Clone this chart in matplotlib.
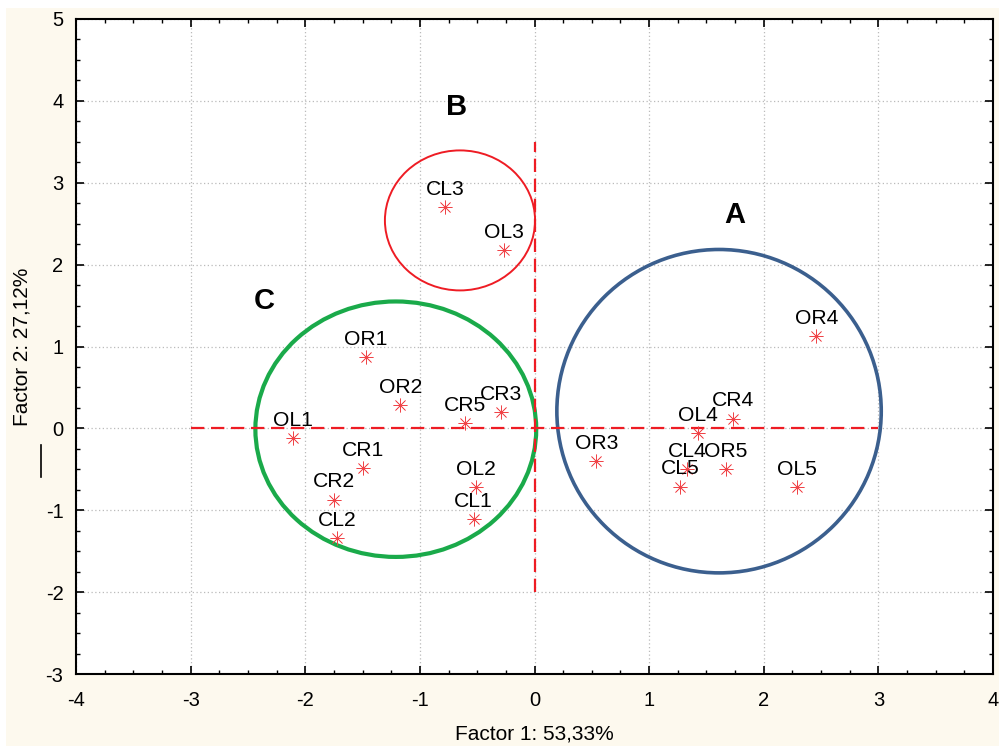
import matplotlib
matplotlib.use("Agg")
import matplotlib.pyplot as plt
from matplotlib.patches import Ellipse, Rectangle
from matplotlib.lines import Line2D
from matplotlib.ticker import MultipleLocator

plt.rcParams['font.family'] = ['Liberation Sans', 'DejaVu Sans']
plt.rcParams['axes.unicode_minus'] = False

labels = ["CL3", "OL3", "OR4", "CR4", "OL4", "CL4", "CL5", "OR5", "OL5", "OR3",
          "OR1", "OR2", "CR5", "CR3", "OL1", "CR1", "CR2", "CL2", "OL2", "CL1"]
factor1 = [-0.78, -0.27, 2.46, 1.73, 1.43, 1.33, 1.27, 1.67, 2.29, 0.54,
           -1.47, -1.17, -0.61, -0.29, -2.11, -1.50, -1.75, -1.72, -0.51, -0.53]
factor2 = [2.70, 2.18, 1.13, 0.12, -0.06, -0.50, -0.71, -0.50, -0.72, -0.40,
           0.87, 0.28, 0.06, 0.20, -0.12, -0.49, -0.87, -1.34, -0.72, -1.11]

groups = ["A", "B", "C"]
group_label_x = [1.75, -0.68, -2.36]
group_label_y = [2.61, 3.93, 1.56]
group_center_x = [1.61, -0.65, -1.21]
group_center_y = [0.21, 2.54, -0.01]
group_width = [2.83, 1.31, 2.45]
group_height = [3.95, 1.71, 3.12]
group_colors = ["#3b5f8e", "#ee1c24", "#1aaa4a"]
group_lw = [2.6, 1.4, 3.0]

fig = plt.figure(figsize=(9.99, 7.46), dpi=100, facecolor="white")
fig.patches.append(Rectangle((6/999, 0), 1, 1 - 8/746, transform=fig.transFigure,
                             facecolor="#fdf9ee", edgecolor="none", zorder=-10))
ax = fig.add_axes([76/999, 1 - 674/746, (993 - 76)/999, (674 - 19)/746])
ax.set_facecolor("white")
ax.set_xlim(-4, 4)
ax.set_ylim(-3, 5)
ax.xaxis.set_major_locator(MultipleLocator(1))
ax.yaxis.set_major_locator(MultipleLocator(1))
ax.xaxis.set_minor_locator(MultipleLocator(0.25))
ax.yaxis.set_minor_locator(MultipleLocator(0.25))
ax.tick_params(which="both", direction="in", top=True, right=True, color="black")
ax.tick_params(which="major", length=6, width=1.2, labelsize=14.5, pad=12)
ax.tick_params(axis="y", which="major", pad=9)
ax.tick_params(which="minor", length=3, width=1.0)
for s in ax.spines.values():
    s.set_linewidth(1.5)
ax.grid(True, which="major", linestyle=(0, (1, 2)), color="#bbbbbb", linewidth=0.9)
ax.set_axisbelow(True)

ax.set_xlabel("Factor 1: 53,33%", fontsize=15, labelpad=11)
ax.set_ylabel("Factor 2: 27,12%", fontsize=15, labelpad=10)

# reference dashed lines
ax.plot([-3, 3], [0, 0], color="#ee1c24", linestyle=(0, (6, 3)), linewidth=1.6)
ax.plot([0, 0], [-2, 3.5], color="#ee1c24", linestyle=(0, (6, 3)), linewidth=1.6)

for cx, cy, w, h, c, lw in zip(group_center_x, group_center_y, group_width,
                               group_height, group_colors, group_lw):
    ax.add_patch(Ellipse((cx, cy), w, h, fill=False, edgecolor=c, linewidth=lw))

for g, gx, gy in zip(groups, group_label_x, group_label_y):
    ax.text(gx, gy, g, fontsize=21, fontweight="bold", ha="center", va="center")

ax.plot(factor1, factor2, linestyle="none", marker=(8, 2, 0), markersize=10,
        markeredgecolor="#f04448", markeredgewidth=0.5, color="#f04448")
for lab, x, y in zip(labels, factor1, factor2):
    ax.annotate(lab, (x, y), xytext=(0, 6), textcoords="offset points",
                ha="center", va="bottom", fontsize=15.2)

fig.add_artist(Line2D([41/999, 41/999], [1 - 445/746, 1 - 477/746],
                      transform=fig.transFigure, color="black", linewidth=1.2))

fig.savefig("out.png", dpi=100, facecolor=fig.get_facecolor())
